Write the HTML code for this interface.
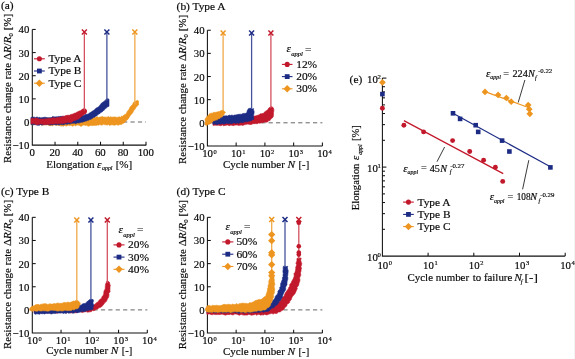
<!DOCTYPE html>
<html><head><meta charset="utf-8"><style>
html,body{margin:0;padding:0;background:#fff;width:575px;height:359px;overflow:hidden;}
svg{display:block;filter:blur(0.3px);}
text{font-family:"Liberation Serif",serif;fill:#0a0a0a;stroke:#0a0a0a;stroke-width:0.18px;}
</style></head><body>
<svg width="575" height="359" viewBox="0 0 575 359">
<rect width="575" height="359" fill="#fff"/>
<line x1="574.5" y1="0" x2="574.5" y2="359" stroke="#f3f3f3" stroke-width="1"/>
<text x="1.00" y="9.20" font-size="11.4" text-anchor="start" >(a)</text>
<path d="M32.30,29.44 L32.30,145.14 L146.20,145.14" fill="none" stroke="#111" stroke-width="1.05"/>
<line x1="32.30" y1="29.44" x2="35.70" y2="29.44" stroke="#111" stroke-width="1.05" />
<line x1="32.30" y1="52.58" x2="35.70" y2="52.58" stroke="#111" stroke-width="1.05" />
<line x1="32.30" y1="75.72" x2="35.70" y2="75.72" stroke="#111" stroke-width="1.05" />
<line x1="32.30" y1="98.86" x2="35.70" y2="98.86" stroke="#111" stroke-width="1.05" />
<line x1="32.30" y1="122.00" x2="35.70" y2="122.00" stroke="#111" stroke-width="1.05" />
<line x1="55.04" y1="145.14" x2="55.04" y2="141.74" stroke="#111" stroke-width="1.05" />
<line x1="77.78" y1="145.14" x2="77.78" y2="141.74" stroke="#111" stroke-width="1.05" />
<line x1="100.52" y1="145.14" x2="100.52" y2="141.74" stroke="#111" stroke-width="1.05" />
<line x1="123.26" y1="145.14" x2="123.26" y2="141.74" stroke="#111" stroke-width="1.05" />
<line x1="146.00" y1="145.14" x2="146.00" y2="141.74" stroke="#111" stroke-width="1.05" />
<text x="29.40" y="33.44" font-size="10.8" text-anchor="end" >40</text>
<text x="29.40" y="56.58" font-size="10.8" text-anchor="end" >30</text>
<text x="29.40" y="79.72" font-size="10.8" text-anchor="end" >20</text>
<text x="29.40" y="102.86" font-size="10.8" text-anchor="end" >10</text>
<text x="29.40" y="126.00" font-size="10.8" text-anchor="end" >0</text>
<text x="29.40" y="149.14" font-size="10.8" text-anchor="end" >−10</text>
<text x="32.10" y="156.40" font-size="10.8" text-anchor="middle" >0</text>
<text x="54.84" y="156.40" font-size="10.8" text-anchor="middle" >20</text>
<text x="77.58" y="156.40" font-size="10.8" text-anchor="middle" >40</text>
<text x="100.32" y="156.40" font-size="10.8" text-anchor="middle" >60</text>
<text x="123.06" y="156.40" font-size="10.8" text-anchor="middle" >80</text>
<text x="145.80" y="156.40" font-size="10.8" text-anchor="middle" >100</text>
<text x="46.20" y="167.70" font-size="11.4" textLength="48.4" lengthAdjust="spacingAndGlyphs" text-anchor="start">Elongation</text>
<text x="96.90" y="167.70" font-size="11.4" font-style="italic" text-anchor="start">ε</text>
<text x="102.00" y="170.30" font-size="5.9" font-style="italic" text-anchor="start">appl</text>
<text x="115.70" y="167.70" font-size="11.4" textLength="16.6" lengthAdjust="spacingAndGlyphs" text-anchor="start">[%]</text>
<text transform="translate(10.90,163.00) rotate(-90)" x="0" y="0" font-size="11.4" textLength="149.2" lengthAdjust="spacingAndGlyphs">Resistance change rate Δ<tspan font-style="italic">R</tspan>/<tspan font-style="italic">R</tspan><tspan font-size="7" dy="2">0</tspan><tspan dy="-2"> [%]</tspan></text>
<line x1="34.3" y1="122.00" x2="146" y2="122.00" stroke="#666" stroke-width="1" stroke-dasharray="4.2,3.2"/>
<path d="M31.00,118.50 L32.21,118.15 L33.42,118.26 L34.62,118.53 L35.83,117.75 L37.04,118.01 L38.25,118.85 L39.46,118.62 L40.66,118.34 L41.87,118.30 L43.08,118.13 L44.29,118.26 L45.49,118.33 L46.70,117.74 L47.91,118.37 L49.12,118.15 L50.33,118.10 L51.53,117.68 L52.74,117.69 L53.95,118.17 L55.16,117.24 L56.37,118.19 L57.57,117.74 L58.78,117.55 L59.99,117.32 L61.20,117.59 L62.40,117.69 L63.61,117.89 L64.82,117.66 L66.03,117.87 L67.24,117.91 L68.44,117.67 L69.65,117.80 L70.86,117.13 L72.07,117.80 L73.28,116.87 L74.48,117.25 L75.69,117.10 L76.90,117.78 L78.11,117.46 L79.31,117.57 L80.52,117.75 L81.73,117.29 L82.94,117.04 L84.15,117.38 L85.35,116.88 L86.56,117.37 L87.77,116.67 L88.98,116.99 L90.19,117.67 L91.39,117.12 L92.60,117.32 L93.81,117.19 L95.02,117.63 L96.22,116.99 L97.43,116.74 L98.64,117.60 L99.85,117.06 L101.06,116.88 L102.26,116.38 L103.47,117.09 L104.68,117.06 L105.89,117.14 L107.10,117.21 L108.30,116.43 L109.51,117.25 L110.72,116.78 L111.93,117.23 L113.13,116.99 L114.34,117.03 L115.55,116.93 L116.76,117.45 L117.97,117.16 L119.17,116.80 L120.38,117.24 L121.59,116.09 L122.80,116.31 L124.01,114.95 L125.21,114.56 L126.42,113.29 L127.63,110.86 L128.84,109.71 L130.04,107.11 L131.25,105.81 L132.46,104.48 L133.67,102.08 L134.88,101.76 L136.08,100.98 L137.29,100.36 L138.50,101.00 L138.50,105.00 L137.29,105.96 L136.08,107.23 L134.88,109.36 L133.67,110.73 L132.46,113.22 L131.25,114.25 L130.04,115.98 L128.84,117.89 L127.63,119.64 L126.42,120.58 L125.21,122.08 L124.01,122.96 L122.80,123.59 L121.59,124.39 L120.38,124.56 L119.17,124.70 L117.97,125.36 L116.76,124.55 L115.55,125.02 L114.34,125.30 L113.13,124.91 L111.93,124.87 L110.72,124.98 L109.51,125.54 L108.30,124.41 L107.10,125.17 L105.89,124.66 L104.68,124.78 L103.47,124.35 L102.26,125.08 L101.06,125.11 L99.85,124.49 L98.64,125.16 L97.43,124.96 L96.22,125.53 L95.02,125.34 L93.81,125.54 L92.60,125.58 L91.39,125.55 L90.19,125.44 L88.98,126.15 L87.77,126.04 L86.56,125.19 L85.35,125.49 L84.15,125.04 L82.94,125.09 L81.73,126.20 L80.52,126.18 L79.31,125.40 L78.11,125.05 L76.90,125.05 L75.69,125.92 L74.48,125.18 L73.28,125.96 L72.07,126.19 L70.86,125.08 L69.65,125.69 L68.44,125.25 L67.24,125.68 L66.03,126.16 L64.82,125.20 L63.61,126.19 L62.40,126.11 L61.20,126.09 L59.99,125.70 L58.78,125.41 L57.57,125.26 L56.37,125.37 L55.16,125.05 L53.95,124.86 L52.74,125.81 L51.53,125.60 L50.33,125.69 L49.12,125.59 L47.91,125.05 L46.70,124.47 L45.49,125.09 L44.29,124.42 L43.08,125.19 L41.87,125.30 L40.66,124.40 L39.46,124.75 L38.25,124.71 L37.04,124.38 L35.83,125.07 L34.62,124.10 L33.42,124.71 L32.21,124.59 L31.00,124.50Z" fill="#ed951f" stroke="#ed951f" stroke-width="0.6" stroke-linejoin="round"/>
<path d="M31.00,117.20 L32.20,117.52 L33.40,117.09 L34.60,117.19 L35.80,117.72 L37.00,116.82 L38.20,117.72 L39.40,117.30 L40.60,117.82 L41.80,117.66 L43.00,117.60 L44.20,117.25 L45.40,117.22 L46.60,117.55 L47.80,117.69 L49.00,117.70 L50.20,117.64 L51.40,117.54 L52.60,116.57 L53.80,116.65 L55.00,117.06 L56.20,116.73 L57.40,116.85 L58.60,116.41 L59.80,116.56 L61.00,116.35 L62.20,116.53 L63.40,116.17 L64.60,116.92 L65.80,116.82 L67.00,116.63 L68.20,116.05 L69.40,116.27 L70.60,116.42 L71.80,116.78 L73.00,116.03 L74.20,116.07 L75.40,116.89 L76.60,115.97 L77.80,116.17 L79.00,116.17 L80.20,116.26 L81.40,115.57 L82.60,115.21 L83.80,115.51 L85.00,114.58 L86.20,114.35 L87.40,114.23 L88.60,113.72 L89.80,112.82 L91.00,112.14 L92.20,111.27 L93.40,110.52 L94.60,109.80 L95.80,108.35 L97.00,107.63 L98.20,107.06 L99.40,105.94 L100.60,104.16 L101.80,102.82 L103.00,102.16 L104.20,101.15 L105.40,100.23 L106.60,98.80 L107.80,98.70 L109.00,99.20 L109.00,106.30 L107.80,106.66 L106.60,107.83 L105.40,108.83 L104.20,109.99 L103.00,111.19 L101.80,112.07 L100.60,112.68 L99.40,113.92 L98.20,114.37 L97.00,115.74 L95.80,116.15 L94.60,117.21 L93.40,117.41 L92.20,118.51 L91.00,119.16 L89.80,119.45 L88.60,120.18 L87.40,120.42 L86.20,121.12 L85.00,121.18 L83.80,121.67 L82.60,122.14 L81.40,122.21 L80.20,122.54 L79.00,123.04 L77.80,122.86 L76.60,123.20 L75.40,123.71 L74.20,123.08 L73.00,123.30 L71.80,123.31 L70.60,123.86 L69.40,123.99 L68.20,123.81 L67.00,124.48 L65.80,123.70 L64.60,124.58 L63.40,124.64 L62.20,124.74 L61.00,124.20 L59.80,124.81 L58.60,124.91 L57.40,124.41 L56.20,125.04 L55.00,124.64 L53.80,124.44 L52.60,124.91 L51.40,124.77 L50.20,125.11 L49.00,124.93 L47.80,124.31 L46.60,124.58 L45.40,124.37 L44.20,124.64 L43.00,124.82 L41.80,125.14 L40.60,124.52 L39.40,125.25 L38.20,125.29 L37.00,125.24 L35.80,124.46 L34.60,124.71 L33.40,124.72 L32.20,124.57 L31.00,124.80Z" fill="#1c2b84" stroke="#1c2b84" stroke-width="0.6" stroke-linejoin="round"/>
<path d="M31.00,118.30 L32.20,118.63 L33.40,118.00 L34.61,118.85 L35.81,118.05 L37.01,118.20 L38.21,118.81 L39.42,119.15 L40.62,119.05 L41.82,119.07 L43.02,119.08 L44.22,119.17 L45.43,118.53 L46.63,118.98 L47.83,118.49 L49.03,118.33 L50.23,118.66 L51.44,118.11 L52.64,117.92 L53.84,117.49 L55.04,118.21 L56.25,117.81 L57.45,117.59 L58.65,117.40 L59.85,117.04 L61.05,117.29 L62.26,116.23 L63.46,116.80 L64.66,116.07 L65.86,115.56 L67.07,115.32 L68.27,115.18 L69.47,115.30 L70.67,114.57 L71.87,114.28 L73.08,114.04 L74.28,113.26 L75.48,113.06 L76.68,112.20 L77.88,111.80 L79.09,111.06 L80.29,110.81 L81.49,110.11 L82.69,109.77 L83.90,108.73 L85.10,108.97 L86.30,110.00 L86.30,111.80 L85.10,113.36 L83.90,114.70 L82.69,115.50 L81.49,116.74 L80.29,117.47 L79.09,118.68 L77.88,119.23 L76.68,119.58 L75.48,120.38 L74.28,120.55 L73.08,121.18 L71.87,122.15 L70.67,122.39 L69.47,122.92 L68.27,122.34 L67.07,122.84 L65.86,122.67 L64.66,123.27 L63.46,123.22 L62.26,123.59 L61.05,123.14 L59.85,123.72 L58.65,123.67 L57.45,123.99 L56.25,123.48 L55.04,123.81 L53.84,123.98 L52.64,123.98 L51.44,124.03 L50.23,124.11 L49.03,124.41 L47.83,124.06 L46.63,124.79 L45.43,124.31 L44.22,124.88 L43.02,124.01 L41.82,124.37 L40.62,123.86 L39.42,124.36 L38.21,124.58 L37.01,124.54 L35.81,124.50 L34.61,123.80 L33.40,123.68 L32.20,123.58 L31.00,124.00Z" fill="#c2182b" stroke="#c2182b" stroke-width="0.6" stroke-linejoin="round"/>
<circle cx="84.0" cy="111.4" r="2.8" fill="#c2182b"/>
<line x1="84.37" y1="110.56" x2="84.37" y2="32.10" stroke="#d4505e" stroke-width="1.3" />
<path d="M81.87,29.60 L86.87,34.60 M86.87,29.60 L81.87,34.60" stroke="#c2182b" stroke-width="1.45" fill="none"/>
<line x1="106.89" y1="100.45" x2="106.89" y2="32.10" stroke="#46549c" stroke-width="1.3" />
<path d="M104.39,29.60 L109.39,34.60 M109.39,29.60 L104.39,34.60" stroke="#1c2b84" stroke-width="1.45" fill="none"/>
<line x1="134.86" y1="104.47" x2="134.86" y2="32.10" stroke="#f0a94a" stroke-width="1.3" />
<path d="M132.36,29.60 L137.36,34.60 M137.36,29.60 L132.36,34.60" stroke="#ed951f" stroke-width="1.45" fill="none"/>
<line x1="34.00" y1="58.80" x2="44.80" y2="58.80" stroke="#c2182b" stroke-width="1.1" />
<circle cx="39.40" cy="58.80" r="2.55" fill="#c2182b"/>
<text x="48.40" y="62.20" font-size="11.4" text-anchor="start" >Type A</text>
<line x1="34.00" y1="71.00" x2="44.80" y2="71.00" stroke="#1c2b84" stroke-width="1.1" />
<rect x="37.00" y="68.60" width="4.80" height="4.80" fill="#1c2b84"/>
<text x="48.40" y="74.40" font-size="11.4" text-anchor="start" >Type B</text>
<line x1="34.00" y1="83.20" x2="44.80" y2="83.20" stroke="#ed951f" stroke-width="1.1" />
<path d="M39.40,79.50 L43.10,83.20 L39.40,86.90 L35.70,83.20Z" fill="#ed951f"/>
<text x="48.40" y="86.60" font-size="11.4" text-anchor="start" >Type C</text>
<text x="176.60" y="9.60" font-size="11.4" text-anchor="start" >(b) Type A</text>
<path d="M207.40,30.24 L207.40,145.94 L322.40,145.94" fill="none" stroke="#111" stroke-width="1.05"/>
<line x1="207.40" y1="30.24" x2="210.80" y2="30.24" stroke="#111" stroke-width="1.05" />
<line x1="207.40" y1="53.38" x2="210.80" y2="53.38" stroke="#111" stroke-width="1.05" />
<line x1="207.40" y1="76.52" x2="210.80" y2="76.52" stroke="#111" stroke-width="1.05" />
<line x1="207.40" y1="99.66" x2="210.80" y2="99.66" stroke="#111" stroke-width="1.05" />
<line x1="207.40" y1="122.80" x2="210.80" y2="122.80" stroke="#111" stroke-width="1.05" />
<line x1="236.15" y1="145.94" x2="236.15" y2="142.54" stroke="#111" stroke-width="1.05" />
<line x1="264.90" y1="145.94" x2="264.90" y2="142.54" stroke="#111" stroke-width="1.05" />
<line x1="293.65" y1="145.94" x2="293.65" y2="142.54" stroke="#111" stroke-width="1.05" />
<line x1="322.40" y1="145.94" x2="322.40" y2="142.54" stroke="#111" stroke-width="1.05" />
<text x="204.60" y="34.24" font-size="10.8" text-anchor="end" >40</text>
<text x="204.60" y="57.38" font-size="10.8" text-anchor="end" >30</text>
<text x="204.60" y="80.52" font-size="10.8" text-anchor="end" >20</text>
<text x="204.60" y="103.66" font-size="10.8" text-anchor="end" >10</text>
<text x="204.60" y="126.80" font-size="10.8" text-anchor="end" >0</text>
<text x="204.60" y="149.94" font-size="10.8" text-anchor="end" >−10</text>
<text x="207.60" y="157.20" font-size="10.8" text-anchor="middle">10</text>
<text x="213.60" y="153.60" font-size="6.48">0</text>
<text x="236.35" y="157.20" font-size="10.8" text-anchor="middle">10</text>
<text x="242.35" y="153.60" font-size="6.48">1</text>
<text x="265.10" y="157.20" font-size="10.8" text-anchor="middle">10</text>
<text x="271.10" y="153.60" font-size="6.48">2</text>
<text x="293.85" y="157.20" font-size="10.8" text-anchor="middle">10</text>
<text x="299.85" y="153.60" font-size="6.48">3</text>
<text x="322.60" y="157.20" font-size="10.8" text-anchor="middle">10</text>
<text x="328.60" y="153.60" font-size="6.48">4</text>
<text x="223.00" y="168.00" font-size="11.4" textLength="61.9" lengthAdjust="spacingAndGlyphs" text-anchor="start">Cycle number</text>
<text x="287.60" y="168.00" font-size="11.4" font-style="italic" text-anchor="start">N</text>
<text x="298.60" y="168.00" font-size="11.4" textLength="10.6" lengthAdjust="spacingAndGlyphs" text-anchor="start">[-]</text>
<text transform="translate(186.30,164.00) rotate(-90)" x="0" y="0" font-size="11.4" textLength="149.2" lengthAdjust="spacingAndGlyphs">Resistance change rate Δ<tspan font-style="italic">R</tspan>/<tspan font-style="italic">R</tspan><tspan font-size="7" dy="2">0</tspan><tspan dy="-2"> [%]</tspan></text>
<line x1="209.4" y1="122.80" x2="322.40" y2="122.80" stroke="#666" stroke-width="1" stroke-dasharray="4.2,3.2"/>
<text x="286.60" y="52.40" font-size="11.4" font-style="italic">ε</text>
<text x="291.20" y="56.30" font-size="6.6" font-style="italic">appl</text>
<text x="305.10" y="52.50" font-size="11.4">=</text>
<line x1="281.90" y1="64.40" x2="292.50" y2="64.40" stroke="#c2182b" stroke-width="1.1" />
<circle cx="287.20" cy="64.40" r="2.55" fill="#c2182b"/>
<text x="296.20" y="67.80" font-size="11.4" text-anchor="start" >12%</text>
<line x1="281.90" y1="76.60" x2="292.50" y2="76.60" stroke="#1c2b84" stroke-width="1.1" />
<rect x="284.80" y="74.20" width="4.80" height="4.80" fill="#1c2b84"/>
<text x="296.20" y="80.00" font-size="11.4" text-anchor="start" >20%</text>
<line x1="281.90" y1="88.80" x2="292.50" y2="88.80" stroke="#ed951f" stroke-width="1.1" />
<path d="M287.20,85.10 L290.90,88.80 L287.20,92.50 L283.50,88.80Z" fill="#ed951f"/>
<text x="296.20" y="92.20" font-size="11.4" text-anchor="start" >30%</text>
<path d="M213.00,121.50 L214.32,121.68 L215.65,121.85 L216.92,121.23 L218.21,120.90 L219.52,120.82 L220.86,121.28 L222.17,121.15 L223.49,121.39 L224.79,121.20 L226.06,120.45 L227.36,120.31 L228.68,120.31 L230.00,120.50 L231.29,119.99 L232.69,120.39 L234.05,120.39 L235.39,120.27 L236.63,119.40 L238.05,119.90 L239.31,119.13 L240.66,119.08 L242.03,119.25 L243.28,118.38 L244.61,118.22 L246.05,118.86 L247.30,118.11 L248.65,118.01 L250.00,118.00 L251.36,117.62 L252.73,117.25 L253.82,116.09 L255.27,115.96 L256.64,115.60 L258.00,115.20 L259.19,114.65 L260.27,113.83 L261.64,113.67 L263.01,113.50 L264.00,112.50 L265.26,111.40 L266.70,110.54 L268.00,109.50 L268.68,108.08 L270.00,107.20 L272.00,106.60 L273.40,108.00 L273.85,109.47 L273.80,111.00 L273.47,112.73 L273.50,114.50 L273.30,116.39 L272.30,118.00 L270.83,119.02 L270.00,120.60 L268.50,120.72 L267.50,122.08 L266.00,122.20 L264.42,121.97 L263.02,122.84 L261.45,122.65 L260.00,123.20 L258.54,123.09 L257.17,123.77 L255.69,123.52 L254.27,123.72 L252.82,123.72 L251.46,124.48 L250.00,124.40 L248.55,124.24 L247.10,124.12 L245.70,124.55 L244.28,124.82 L242.89,125.40 L241.43,125.09 L240.00,125.20 L238.64,125.38 L237.27,125.00 L235.91,125.06 L234.54,125.20 L233.19,125.64 L231.82,125.15 L230.45,125.18 L229.10,125.70 L227.72,124.93 L226.36,125.21 L225.00,125.40 L223.67,125.81 L222.33,124.92 L221.00,125.79 L219.67,125.59 L218.33,125.16 L217.00,125.29 L215.67,125.34 L214.33,125.24 L213.00,125.40 L212.95,124.10 L212.79,122.80Z" fill="#c2182b" stroke="#c2182b" stroke-width="0.6" stroke-linejoin="round"/>
<path d="M212.60,120.60 L213.49,119.30 L214.55,118.18 L216.00,117.50 L217.33,117.51 L218.62,117.32 L219.87,116.86 L221.19,116.85 L222.40,116.20 L223.67,115.87 L225.00,115.90 L226.36,115.66 L227.78,116.08 L229.08,115.06 L230.50,115.46 L231.85,115.06 L233.27,115.52 L234.61,114.95 L236.00,115.00 L237.35,114.55 L238.75,114.36 L240.16,114.24 L241.59,114.23 L242.89,113.51 L244.30,113.40 L245.77,113.31 L247.00,112.50 L247.03,111.13 L247.63,109.95 L248.30,108.80 L249.63,108.31 L250.98,108.27 L252.36,108.96 L253.70,108.60 L253.48,109.93 L254.10,111.24 L254.12,112.57 L253.89,113.90 L253.56,115.23 L253.50,116.56 L253.60,117.88 L253.90,119.20 L252.56,119.71 L251.46,120.75 L250.00,121.00 L248.62,121.35 L247.26,121.81 L245.79,121.69 L244.39,121.89 L243.06,122.52 L241.65,122.71 L240.15,122.37 L238.89,123.43 L237.34,122.83 L236.00,123.40 L234.63,123.03 L233.27,123.02 L231.95,123.70 L230.59,123.58 L229.23,123.60 L227.88,123.61 L226.51,123.29 L225.17,123.67 L223.83,124.15 L222.45,123.59 L221.12,124.06 L219.76,123.99 L218.40,123.92 L217.08,124.77 L215.69,123.99 L214.35,124.16 L213.00,124.40 L212.79,122.50Z" fill="#1c2b84" stroke="#1c2b84" stroke-width="0.6" stroke-linejoin="round"/>
<path d="M205.00,119.20 L206.02,117.87 L207.00,116.50 L208.32,115.12 L209.70,113.80 L210.94,113.15 L212.36,113.18 L213.55,112.33 L215.00,112.50 L216.57,112.10 L218.17,111.86 L219.70,111.30 L221.33,110.59 L223.00,110.00 L224.25,111.30 L225.60,112.50 L224.37,113.48 L224.00,115.00 L222.72,115.52 L222.26,117.01 L220.79,117.30 L220.00,118.40 L218.55,118.77 L217.37,119.87 L215.85,120.05 L214.50,120.68 L213.00,120.90 L212.23,122.33 L210.77,123.07 L209.70,124.20 L207.89,124.58 L206.50,125.80 L205.00,124.50 L204.81,123.17 L205.41,121.85 L205.21,120.53Z" fill="#ed951f" stroke="#ed951f" stroke-width="0.6" stroke-linejoin="round"/>
<line x1="223.10" y1="111.00" x2="223.10" y2="33.10" stroke="#f0a94a" stroke-width="1.3" />
<path d="M220.60,30.60 L225.60,35.60 M225.60,30.60 L220.60,35.60" stroke="#ed951f" stroke-width="1.45" fill="none"/>
<line x1="251.60" y1="109.00" x2="251.60" y2="33.10" stroke="#46549c" stroke-width="1.3" />
<path d="M249.10,30.60 L254.10,35.60 M254.10,30.60 L249.10,35.60" stroke="#1c2b84" stroke-width="1.45" fill="none"/>
<line x1="270.90" y1="108.00" x2="270.90" y2="33.10" stroke="#d4505e" stroke-width="1.3" />
<path d="M268.40,30.60 L273.40,35.60 M273.40,30.60 L268.40,35.60" stroke="#c2182b" stroke-width="1.45" fill="none"/>
<text x="1.00" y="195.20" font-size="11.4" text-anchor="start" >(c) Type B</text>
<path d="M32.30,217.34 L32.30,333.04 L147.30,333.04" fill="none" stroke="#111" stroke-width="1.05"/>
<line x1="32.30" y1="217.34" x2="35.70" y2="217.34" stroke="#111" stroke-width="1.05" />
<line x1="32.30" y1="240.48" x2="35.70" y2="240.48" stroke="#111" stroke-width="1.05" />
<line x1="32.30" y1="263.62" x2="35.70" y2="263.62" stroke="#111" stroke-width="1.05" />
<line x1="32.30" y1="286.76" x2="35.70" y2="286.76" stroke="#111" stroke-width="1.05" />
<line x1="32.30" y1="309.90" x2="35.70" y2="309.90" stroke="#111" stroke-width="1.05" />
<line x1="61.05" y1="333.04" x2="61.05" y2="329.64" stroke="#111" stroke-width="1.05" />
<line x1="89.80" y1="333.04" x2="89.80" y2="329.64" stroke="#111" stroke-width="1.05" />
<line x1="118.55" y1="333.04" x2="118.55" y2="329.64" stroke="#111" stroke-width="1.05" />
<line x1="147.30" y1="333.04" x2="147.30" y2="329.64" stroke="#111" stroke-width="1.05" />
<text x="29.40" y="221.34" font-size="10.8" text-anchor="end" >40</text>
<text x="29.40" y="244.48" font-size="10.8" text-anchor="end" >30</text>
<text x="29.40" y="267.62" font-size="10.8" text-anchor="end" >20</text>
<text x="29.40" y="290.76" font-size="10.8" text-anchor="end" >10</text>
<text x="29.40" y="313.90" font-size="10.8" text-anchor="end" >0</text>
<text x="29.40" y="337.04" font-size="10.8" text-anchor="end" >−10</text>
<text x="32.50" y="344.40" font-size="10.8" text-anchor="middle">10</text>
<text x="38.50" y="340.80" font-size="6.48">0</text>
<text x="61.25" y="344.40" font-size="10.8" text-anchor="middle">10</text>
<text x="67.25" y="340.80" font-size="6.48">1</text>
<text x="90.00" y="344.40" font-size="10.8" text-anchor="middle">10</text>
<text x="96.00" y="340.80" font-size="6.48">2</text>
<text x="118.75" y="344.40" font-size="10.8" text-anchor="middle">10</text>
<text x="124.75" y="340.80" font-size="6.48">3</text>
<text x="147.50" y="344.40" font-size="10.8" text-anchor="middle">10</text>
<text x="153.50" y="340.80" font-size="6.48">4</text>
<text x="46.20" y="354.20" font-size="11.4" textLength="61.9" lengthAdjust="spacingAndGlyphs" text-anchor="start">Cycle number</text>
<text x="110.80" y="354.20" font-size="11.4" font-style="italic" text-anchor="start">N</text>
<text x="121.80" y="354.20" font-size="11.4" textLength="10.6" lengthAdjust="spacingAndGlyphs" text-anchor="start">[-]</text>
<text transform="translate(10.90,349.00) rotate(-90)" x="0" y="0" font-size="11.4" textLength="149.2" lengthAdjust="spacingAndGlyphs">Resistance change rate Δ<tspan font-style="italic">R</tspan>/<tspan font-style="italic">R</tspan><tspan font-size="7" dy="2">0</tspan><tspan dy="-2"> [%]</tspan></text>
<line x1="34.3" y1="309.90" x2="147.30" y2="309.90" stroke="#666" stroke-width="1" stroke-dasharray="4.2,3.2"/>
<text x="118.60" y="233.00" font-size="11.4" font-style="italic">ε</text>
<text x="123.20" y="236.90" font-size="6.6" font-style="italic">appl</text>
<text x="137.10" y="233.10" font-size="11.4">=</text>
<line x1="113.50" y1="244.90" x2="124.50" y2="244.90" stroke="#c2182b" stroke-width="1.1" />
<circle cx="119.00" cy="244.90" r="2.55" fill="#c2182b"/>
<text x="128.00" y="248.30" font-size="11.4" text-anchor="start" >20%</text>
<line x1="113.50" y1="257.10" x2="124.50" y2="257.10" stroke="#1c2b84" stroke-width="1.1" />
<rect x="116.60" y="254.70" width="4.80" height="4.80" fill="#1c2b84"/>
<text x="128.00" y="260.50" font-size="11.4" text-anchor="start" >30%</text>
<line x1="113.50" y1="269.30" x2="124.50" y2="269.30" stroke="#ed951f" stroke-width="1.1" />
<path d="M119.00,265.60 L122.70,269.30 L119.00,273.00 L115.30,269.30Z" fill="#ed951f"/>
<text x="128.00" y="272.70" font-size="11.4" text-anchor="start" >40%</text>
<path d="M34.00,310.50 L35.31,310.10 L36.62,310.89 L37.92,310.61 L39.23,310.97 L40.54,310.74 L41.85,310.76 L43.15,310.33 L44.46,310.84 L45.77,310.97 L47.08,310.90 L48.38,310.43 L49.69,310.78 L51.00,310.48 L52.31,310.07 L53.62,310.00 L54.92,310.04 L56.23,310.17 L57.54,310.13 L58.85,310.50 L60.15,310.72 L61.46,310.54 L62.77,310.41 L64.08,310.66 L65.38,310.29 L66.69,310.46 L68.00,310.78 L69.31,310.39 L70.62,310.15 L71.92,310.94 L73.23,310.74 L74.54,310.35 L75.85,310.36 L77.15,310.53 L78.46,310.61 L79.77,310.20 L81.08,309.95 L82.38,310.18 L83.69,310.81 L85.00,310.50 L86.16,309.48 L87.65,309.13 L89.00,308.50 L90.06,307.35 L91.32,306.49 L92.54,305.58 L94.00,305.00 L95.27,303.92 L96.45,302.71 L98.00,302.00 L98.80,300.47 L100.03,299.36 L101.50,298.50 L101.94,296.83 L103.02,295.50 L103.80,294.00 L103.80,292.20 L104.23,290.53 L105.20,289.00 L105.28,287.33 L105.37,285.66 L105.60,284.00 L106.26,282.83 L106.50,281.50 L107.80,281.00 L109.30,282.00 L109.80,284.00 L110.32,285.49 L109.96,287.00 L109.99,288.50 L109.90,290.00 L110.11,291.76 L108.80,293.24 L109.00,295.00 L108.79,296.36 L108.41,297.67 L107.53,298.76 L107.00,300.00 L106.30,301.55 L104.89,302.59 L104.00,304.00 L103.11,305.00 L102.27,306.06 L101.32,307.00 L100.00,307.50 L98.63,307.98 L97.62,309.12 L96.10,309.32 L95.00,310.30 L93.76,310.71 L92.36,310.59 L91.31,311.64 L90.00,311.80 L88.70,312.12 L87.40,312.14 L86.08,311.58 L84.78,311.83 L83.48,312.19 L82.19,312.51 L80.86,311.90 L79.55,311.63 L78.26,312.09 L76.97,312.78 L75.67,312.79 L74.36,312.77 L73.06,312.73 L71.76,312.92 L70.45,312.94 L69.12,312.33 L67.81,312.10 L66.53,312.91 L65.20,312.11 L63.91,312.69 L62.60,312.38 L61.29,312.30 L60.00,312.80 L58.70,312.32 L57.40,313.31 L56.10,313.01 L54.80,312.68 L53.50,312.31 L52.20,313.25 L50.90,313.03 L49.60,312.42 L48.30,313.22 L47.00,312.92 L45.70,312.98 L44.40,312.60 L43.10,312.33 L41.80,313.16 L40.50,312.54 L39.20,312.54 L37.90,312.43 L36.60,312.74 L35.30,312.33 L34.00,312.80Z" fill="#c2182b" stroke="#c2182b" stroke-width="0.6" stroke-linejoin="round"/>
<path d="M34.00,309.00 L35.29,308.77 L36.59,308.76 L37.88,308.48 L39.22,309.01 L40.50,308.60 L41.79,308.30 L43.08,308.11 L44.41,308.64 L45.71,308.44 L47.01,308.48 L48.29,308.05 L49.60,308.09 L50.88,307.64 L52.21,308.18 L53.47,307.35 L54.80,307.76 L56.12,308.01 L57.41,307.84 L58.67,307.13 L60.00,307.50 L61.30,307.07 L62.71,307.60 L64.02,307.24 L65.38,307.35 L66.71,307.21 L67.99,306.61 L69.38,306.95 L70.69,306.63 L71.98,306.06 L73.32,305.96 L74.62,305.49 L75.99,305.71 L77.39,306.18 L78.62,305.11 L80.00,305.40 L81.28,305.02 L82.35,304.10 L83.59,303.62 L85.00,303.60 L86.11,302.89 L86.82,301.71 L88.00,301.10 L89.24,299.77 L91.00,299.30 L93.10,299.50 L93.51,300.85 L93.00,302.22 L93.09,303.57 L93.75,304.92 L93.54,306.28 L92.76,307.65 L93.30,309.00 L91.73,309.75 L90.00,309.90 L88.73,310.23 L87.53,310.78 L86.16,310.81 L85.00,311.50 L83.63,311.51 L82.24,311.44 L80.91,311.84 L79.58,312.35 L78.21,312.49 L76.86,312.72 L75.42,312.03 L74.13,312.94 L72.78,313.17 L71.32,312.26 L70.00,312.90 L68.68,313.28 L67.32,312.56 L66.02,313.50 L64.67,313.12 L63.34,313.44 L61.99,312.82 L60.66,313.10 L59.33,313.12 L57.99,313.03 L56.65,312.96 L55.34,313.58 L54.00,313.35 L52.67,313.57 L51.35,313.98 L50.00,313.60 L48.69,313.25 L47.38,313.53 L46.07,313.30 L44.77,313.99 L43.46,313.64 L42.15,313.74 L40.84,313.47 L39.54,314.20 L38.23,313.92 L36.92,313.78 L35.61,314.25 L34.30,313.80 L34.26,312.20 L34.36,310.58Z" fill="#1c2b84" stroke="#1c2b84" stroke-width="0.6" stroke-linejoin="round"/>
<path d="M29.70,308.40 L30.79,307.29 L32.00,306.30 L33.30,306.03 L34.54,305.56 L35.65,304.73 L37.00,304.60 L38.29,304.36 L39.63,304.98 L40.89,304.18 L42.20,304.20 L43.47,303.74 L44.78,303.81 L46.08,303.67 L47.43,304.43 L48.72,304.13 L50.00,303.80 L51.40,304.09 L52.77,304.10 L54.10,303.57 L55.50,303.80 L56.82,303.25 L58.17,303.00 L59.59,303.46 L60.95,303.30 L62.32,303.23 L63.63,302.60 L65.00,302.50 L66.43,302.64 L67.79,302.08 L69.26,302.56 L70.65,302.32 L72.00,301.70 L73.26,301.02 L74.82,301.22 L76.00,300.30 L77.63,300.58 L79.00,301.50 L80.05,302.66 L80.30,304.20 L79.32,305.52 L78.97,307.17 L78.00,308.50 L76.66,308.81 L75.30,309.02 L74.12,309.99 L72.60,309.57 L71.39,310.41 L70.00,310.50 L68.70,310.59 L67.39,310.71 L66.08,310.29 L64.78,310.30 L63.48,310.82 L62.18,311.04 L60.87,310.84 L59.57,310.74 L58.27,311.12 L56.96,311.06 L55.65,310.40 L54.34,310.49 L53.04,310.20 L51.73,310.22 L50.43,310.35 L49.13,310.92 L47.83,311.17 L46.52,311.02 L45.22,310.87 L43.91,310.82 L42.61,310.82 L41.31,311.04 L40.00,310.90 L38.65,310.58 L37.35,311.27 L36.00,311.14 L34.65,310.74 L33.32,310.90 L32.00,311.30 L29.70,310.20Z" fill="#ed951f" stroke="#ed951f" stroke-width="0.6" stroke-linejoin="round"/>
<line x1="76.80" y1="301.00" x2="76.80" y2="220.00" stroke="#f0a94a" stroke-width="1.3" />
<path d="M74.30,217.50 L79.30,222.50 M79.30,217.50 L74.30,222.50" stroke="#ed951f" stroke-width="1.45" fill="none"/>
<line x1="90.90" y1="300.00" x2="90.90" y2="220.00" stroke="#46549c" stroke-width="1.3" />
<path d="M88.40,217.50 L93.40,222.50 M93.40,217.50 L88.40,222.50" stroke="#1c2b84" stroke-width="1.45" fill="none"/>
<line x1="107.30" y1="283.00" x2="107.30" y2="220.00" stroke="#d4505e" stroke-width="1.3" />
<path d="M104.80,217.50 L109.80,222.50 M109.80,217.50 L104.80,222.50" stroke="#c2182b" stroke-width="1.45" fill="none"/>
<text x="176.60" y="194.60" font-size="11.4" text-anchor="start" >(d) Type C</text>
<path d="M207.40,217.34 L207.40,333.04 L322.40,333.04" fill="none" stroke="#111" stroke-width="1.05"/>
<line x1="207.40" y1="217.34" x2="210.80" y2="217.34" stroke="#111" stroke-width="1.05" />
<line x1="207.40" y1="240.48" x2="210.80" y2="240.48" stroke="#111" stroke-width="1.05" />
<line x1="207.40" y1="263.62" x2="210.80" y2="263.62" stroke="#111" stroke-width="1.05" />
<line x1="207.40" y1="286.76" x2="210.80" y2="286.76" stroke="#111" stroke-width="1.05" />
<line x1="207.40" y1="309.90" x2="210.80" y2="309.90" stroke="#111" stroke-width="1.05" />
<line x1="236.15" y1="333.04" x2="236.15" y2="329.64" stroke="#111" stroke-width="1.05" />
<line x1="264.90" y1="333.04" x2="264.90" y2="329.64" stroke="#111" stroke-width="1.05" />
<line x1="293.65" y1="333.04" x2="293.65" y2="329.64" stroke="#111" stroke-width="1.05" />
<line x1="322.40" y1="333.04" x2="322.40" y2="329.64" stroke="#111" stroke-width="1.05" />
<text x="204.60" y="221.34" font-size="10.8" text-anchor="end" >40</text>
<text x="204.60" y="244.48" font-size="10.8" text-anchor="end" >30</text>
<text x="204.60" y="267.62" font-size="10.8" text-anchor="end" >20</text>
<text x="204.60" y="290.76" font-size="10.8" text-anchor="end" >10</text>
<text x="204.60" y="313.90" font-size="10.8" text-anchor="end" >0</text>
<text x="204.60" y="337.04" font-size="10.8" text-anchor="end" >−10</text>
<text x="207.60" y="344.40" font-size="10.8" text-anchor="middle">10</text>
<text x="213.60" y="340.80" font-size="6.48">0</text>
<text x="236.35" y="344.40" font-size="10.8" text-anchor="middle">10</text>
<text x="242.35" y="340.80" font-size="6.48">1</text>
<text x="265.10" y="344.40" font-size="10.8" text-anchor="middle">10</text>
<text x="271.10" y="340.80" font-size="6.48">2</text>
<text x="293.85" y="344.40" font-size="10.8" text-anchor="middle">10</text>
<text x="299.85" y="340.80" font-size="6.48">3</text>
<text x="322.60" y="344.40" font-size="10.8" text-anchor="middle">10</text>
<text x="328.60" y="340.80" font-size="6.48">4</text>
<text x="223.00" y="354.50" font-size="11.4" textLength="61.9" lengthAdjust="spacingAndGlyphs" text-anchor="start">Cycle number</text>
<text x="287.60" y="354.50" font-size="11.4" font-style="italic" text-anchor="start">N</text>
<text x="298.60" y="354.50" font-size="11.4" textLength="10.6" lengthAdjust="spacingAndGlyphs" text-anchor="start">[-]</text>
<text transform="translate(186.30,349.20) rotate(-90)" x="0" y="0" font-size="11.4" textLength="149.2" lengthAdjust="spacingAndGlyphs">Resistance change rate Δ<tspan font-style="italic">R</tspan>/<tspan font-style="italic">R</tspan><tspan font-size="7" dy="2">0</tspan><tspan dy="-2"> [%]</tspan></text>
<line x1="209.4" y1="309.90" x2="322.40" y2="309.90" stroke="#666" stroke-width="1" stroke-dasharray="4.2,3.2"/>
<text x="225.60" y="229.90" font-size="11.4" font-style="italic">ε</text>
<text x="230.20" y="233.80" font-size="6.6" font-style="italic">appl</text>
<text x="244.10" y="230.00" font-size="11.4">=</text>
<line x1="222.20" y1="241.90" x2="233.40" y2="241.90" stroke="#c2182b" stroke-width="1.1" />
<circle cx="227.80" cy="241.90" r="2.55" fill="#c2182b"/>
<text x="236.40" y="245.30" font-size="11.4" text-anchor="start" >50%</text>
<line x1="222.20" y1="254.20" x2="233.40" y2="254.20" stroke="#1c2b84" stroke-width="1.1" />
<rect x="225.40" y="251.80" width="4.80" height="4.80" fill="#1c2b84"/>
<text x="236.40" y="257.60" font-size="11.4" text-anchor="start" >60%</text>
<line x1="222.20" y1="266.50" x2="233.40" y2="266.50" stroke="#ed951f" stroke-width="1.1" />
<path d="M227.80,262.80 L231.50,266.50 L227.80,270.20 L224.10,266.50Z" fill="#ed951f"/>
<text x="236.40" y="269.90" font-size="11.4" text-anchor="start" >70%</text>
<path d="M207.00,311.00 L208.31,310.78 L209.62,310.72 L210.93,311.34 L212.24,310.46 L213.55,310.59 L214.86,311.03 L216.17,311.04 L217.48,310.63 L218.79,310.51 L220.10,310.67 L221.40,311.30 L222.71,310.96 L224.02,311.53 L225.33,311.31 L226.64,311.53 L227.95,310.49 L229.26,310.65 L230.57,310.46 L231.88,310.93 L233.19,310.82 L234.50,310.51 L235.81,311.05 L237.12,310.55 L238.43,310.79 L239.74,310.72 L241.05,311.33 L242.36,310.91 L243.67,310.74 L244.98,310.50 L246.29,310.92 L247.60,311.14 L248.90,311.19 L250.21,311.45 L251.52,311.34 L252.83,310.72 L254.14,310.60 L255.45,311.28 L256.76,311.32 L258.07,311.01 L259.38,311.36 L260.69,311.06 L262.00,311.00 L263.46,310.51 L264.94,310.14 L266.41,309.73 L268.00,310.00 L269.25,309.38 L270.57,308.87 L271.74,308.13 L272.65,306.97 L273.93,306.40 L275.00,305.50 L276.32,304.93 L277.23,303.92 L278.08,302.83 L278.94,301.76 L280.01,300.93 L281.00,300.00 L281.41,298.69 L282.13,297.59 L283.30,296.78 L284.30,295.85 L284.60,294.47 L285.18,293.28 L285.84,292.13 L286.65,291.08 L287.40,290.00 L288.33,288.90 L288.63,287.48 L289.76,286.48 L289.61,284.83 L290.41,283.66 L291.25,282.51 L291.78,281.21 L292.50,280.00 L293.26,278.86 L293.62,277.61 L294.12,276.39 L294.17,275.04 L293.94,273.60 L294.90,272.52 L295.26,271.27 L295.60,270.00 L295.74,268.67 L295.66,267.31 L296.28,266.03 L296.65,264.72 L295.92,263.28 L296.50,262.00 L296.95,260.70 L296.89,259.31 L297.30,258.00 L299.25,258.02 L301.20,258.00 L300.83,259.42 L300.81,260.82 L301.22,262.21 L301.78,263.59 L301.50,265.00 L300.87,266.62 L301.52,268.37 L301.00,270.00 L300.98,271.44 L300.36,272.82 L300.77,274.31 L300.68,275.74 L299.79,277.09 L299.66,278.52 L300.00,280.00 L299.75,281.32 L299.24,282.54 L298.91,283.83 L298.63,285.13 L298.07,286.34 L296.88,287.33 L297.37,288.90 L296.50,290.00 L296.07,291.39 L295.41,292.66 L294.84,293.97 L293.72,294.99 L292.83,296.12 L292.05,297.32 L291.56,298.68 L291.00,300.00 L289.84,300.89 L289.65,302.56 L288.52,303.48 L287.05,304.13 L286.93,305.85 L285.87,306.83 L284.79,307.79 L284.09,309.05 L283.00,310.00 L281.81,310.54 L280.89,311.61 L279.63,312.01 L278.11,311.88 L277.34,313.27 L276.00,313.50 L274.56,313.19 L273.23,314.11 L271.75,313.35 L270.38,313.83 L268.99,313.99 L267.64,314.67 L266.25,314.90 L264.77,314.26 L263.43,315.02 L262.00,314.80 L260.69,315.13 L259.38,314.43 L258.07,314.37 L256.76,315.27 L255.46,314.26 L254.14,314.72 L252.83,314.88 L251.52,315.18 L250.21,314.86 L248.91,314.19 L247.59,314.96 L246.28,315.12 L244.97,315.10 L243.66,315.11 L242.36,314.86 L241.05,314.23 L239.74,315.14 L238.43,315.01 L237.12,314.18 L235.81,314.11 L234.50,314.12 L233.19,314.92 L231.88,314.80 L230.57,314.13 L229.26,314.64 L227.95,314.39 L226.64,314.81 L225.33,315.13 L224.02,314.76 L222.72,314.31 L221.41,314.27 L220.10,314.50 L218.79,314.60 L217.48,314.52 L216.17,314.61 L214.86,314.50 L213.55,314.17 L212.24,314.86 L210.93,314.42 L209.62,314.04 L208.31,314.12 L207.00,314.50 L206.65,312.75Z" fill="#c2182b" stroke="#c2182b" stroke-width="0.6" stroke-linejoin="round"/>
<path d="M207.00,309.00 L208.30,309.52 L209.60,309.40 L210.91,308.68 L212.22,308.80 L213.52,308.75 L214.82,308.60 L216.12,309.63 L217.43,309.02 L218.72,309.55 L220.04,308.73 L221.34,308.63 L222.63,309.59 L223.94,309.52 L225.24,309.75 L226.54,309.43 L227.85,309.27 L229.15,309.55 L230.46,308.82 L231.76,309.33 L233.06,309.24 L234.37,308.93 L235.67,309.44 L236.97,309.15 L238.27,309.37 L239.58,309.24 L240.88,309.19 L242.18,309.25 L243.48,309.54 L244.78,309.97 L246.09,309.93 L247.39,309.87 L248.69,309.85 L250.00,309.50 L251.30,309.00 L252.80,309.47 L253.99,308.43 L255.30,308.00 L256.73,308.14 L258.12,308.11 L259.38,307.42 L260.80,307.47 L262.06,306.81 L263.56,307.28 L264.80,306.50 L266.08,305.83 L267.39,305.23 L268.71,304.66 L270.00,304.00 L271.15,303.26 L272.08,302.34 L272.52,301.02 L273.28,299.96 L274.27,299.08 L275.00,298.00 L275.24,296.45 L276.26,295.30 L277.34,294.17 L277.94,292.80 L277.90,291.12 L279.00,290.00 L279.79,288.78 L279.71,287.30 L280.76,286.16 L280.53,284.62 L280.78,283.24 L281.50,282.00 L281.85,280.61 L282.51,279.29 L282.33,277.78 L283.10,276.48 L283.00,275.00 L283.28,273.56 L282.95,272.09 L282.93,270.64 L283.21,269.20 L283.14,267.75 L283.30,266.30 L284.80,266.16 L286.30,266.47 L287.80,266.30 L287.39,267.75 L287.71,269.20 L288.19,270.65 L288.11,272.10 L287.94,273.55 L287.80,275.00 L287.51,276.39 L287.87,277.85 L287.78,279.25 L287.36,280.62 L287.00,282.00 L286.98,283.38 L287.01,284.76 L286.21,285.99 L285.54,287.25 L285.71,288.66 L285.50,290.00 L284.68,291.23 L284.00,292.52 L283.41,293.85 L282.75,295.15 L282.64,296.69 L282.00,298.00 L281.00,299.05 L280.67,300.58 L279.16,301.26 L278.78,302.74 L277.86,303.85 L277.00,305.00 L275.58,305.48 L274.80,306.86 L273.70,307.78 L272.13,308.04 L271.10,309.08 L270.00,310.00 L268.83,310.93 L267.52,311.49 L266.00,311.50 L264.68,311.77 L263.38,312.26 L261.97,311.46 L260.69,312.28 L259.35,312.29 L258.01,312.27 L256.67,312.25 L255.34,312.44 L253.99,312.33 L252.65,312.41 L251.34,312.76 L250.00,312.80 L248.69,313.23 L247.40,312.25 L246.09,312.56 L244.78,313.22 L243.48,312.82 L242.18,312.47 L240.88,312.20 L239.57,313.20 L238.27,313.26 L236.97,312.73 L235.67,312.79 L234.37,312.26 L233.06,312.32 L231.76,312.86 L230.45,312.75 L229.15,312.56 L227.85,312.22 L226.54,312.96 L225.24,312.75 L223.94,313.07 L222.64,312.45 L221.33,313.12 L220.03,312.11 L218.73,312.56 L217.42,312.49 L216.12,313.02 L214.82,312.85 L213.51,312.58 L212.21,312.14 L210.91,312.48 L209.60,312.76 L208.31,311.98 L207.00,312.50 L207.18,310.75Z" fill="#1c2b84" stroke="#1c2b84" stroke-width="0.6" stroke-linejoin="round"/>
<path d="M205.50,308.50 L206.28,307.27 L207.00,306.00 L208.33,305.59 L209.69,305.60 L211.09,306.17 L212.39,305.24 L213.77,305.59 L215.13,305.60 L216.46,305.22 L217.84,305.59 L219.21,305.66 L220.56,305.51 L221.90,305.29 L223.21,304.62 L224.56,304.37 L225.94,304.69 L227.28,304.47 L228.63,304.25 L230.00,304.50 L231.34,304.81 L232.60,304.00 L233.96,304.57 L235.28,304.61 L236.53,303.61 L237.91,304.39 L239.18,303.73 L240.48,303.43 L241.79,303.31 L243.09,303.06 L244.44,303.47 L245.74,303.25 L247.09,303.67 L248.40,303.55 L249.65,302.61 L251.00,303.00 L252.25,302.30 L253.55,301.69 L254.75,300.88 L256.09,300.35 L257.50,300.00 L258.94,299.41 L260.55,299.54 L262.00,299.00 L263.23,297.86 L264.41,296.66 L266.00,296.00 L266.08,294.43 L266.69,292.98 L267.19,291.52 L267.50,290.00 L267.48,288.52 L268.23,287.18 L267.96,285.66 L268.71,284.32 L268.90,282.88 L268.69,281.37 L269.30,280.00 L269.92,278.56 L270.00,277.00 L271.33,276.88 L272.67,277.04 L274.00,277.00 L274.04,278.51 L274.30,280.00 L274.22,281.43 L274.48,282.85 L274.96,284.27 L274.21,285.73 L274.19,287.16 L274.65,288.57 L274.70,290.00 L274.36,291.41 L274.44,292.90 L273.50,294.21 L273.47,295.68 L273.72,297.20 L272.81,298.51 L272.90,300.00 L271.84,300.97 L271.89,302.47 L270.67,303.36 L270.60,304.81 L270.00,306.00 L268.97,307.28 L267.35,307.81 L266.36,309.14 L265.00,310.00 L263.60,309.95 L262.26,310.31 L260.97,311.03 L259.54,310.77 L258.13,310.62 L256.82,311.22 L255.45,311.36 L254.03,311.20 L252.74,311.86 L251.36,312.01 L250.00,312.20 L248.70,312.10 L247.40,311.83 L246.09,312.51 L244.79,312.62 L243.49,311.88 L242.18,312.11 L240.88,312.37 L239.58,311.72 L238.27,311.72 L236.97,312.09 L235.67,311.60 L234.37,311.76 L233.06,311.85 L231.76,312.34 L230.45,312.65 L229.15,311.91 L227.85,311.84 L226.54,312.26 L225.24,312.11 L223.94,312.00 L222.64,312.35 L221.33,311.85 L220.03,311.99 L218.73,312.18 L217.42,312.48 L216.12,311.98 L214.82,312.23 L213.52,311.78 L212.21,312.38 L210.91,312.13 L209.60,312.35 L208.30,312.11 L207.00,312.00 L205.50,310.50Z" fill="#ed951f" stroke="#ed951f" stroke-width="0.6" stroke-linejoin="round"/>
<line x1="271.70" y1="278.00" x2="271.70" y2="219.50" stroke="#f0a94a" stroke-width="1.3" />
<path d="M269.20,217.00 L274.20,222.00 M274.20,217.00 L269.20,222.00" stroke="#ed951f" stroke-width="1.45" fill="none"/>
<line x1="285.00" y1="267.00" x2="285.00" y2="219.50" stroke="#46549c" stroke-width="1.3" />
<path d="M282.50,217.00 L287.50,222.00 M287.50,217.00 L282.50,222.00" stroke="#1c2b84" stroke-width="1.45" fill="none"/>
<line x1="298.80" y1="259.00" x2="298.80" y2="219.50" stroke="#d4505e" stroke-width="1.3" />
<path d="M296.30,217.00 L301.30,222.00 M301.30,217.00 L296.30,222.00" stroke="#c2182b" stroke-width="1.45" fill="none"/>
<path d="M271.70,230.97 L275.32,234.60 L271.70,238.22 L268.07,234.60Z" fill="#ed951f"/>
<path d="M271.70,237.07 L275.32,240.70 L271.70,244.32 L268.07,240.70Z" fill="#ed951f"/>
<path d="M271.70,249.07 L275.32,252.70 L271.70,256.32 L268.07,252.70Z" fill="#ed951f"/>
<path d="M271.70,251.28 L275.32,254.90 L271.70,258.52 L268.07,254.90Z" fill="#ed951f"/>
<path d="M271.70,260.98 L275.32,264.60 L271.70,268.23 L268.07,264.60Z" fill="#ed951f"/>
<path d="M271.70,268.98 L275.32,272.60 L271.70,276.23 L268.07,272.60Z" fill="#ed951f"/>
<path d="M271.70,272.07 L275.32,275.70 L271.70,279.32 L268.07,275.70Z" fill="#ed951f"/>
<circle cx="298.80" cy="222.80" r="2.30" fill="#c2182b"/>
<circle cx="298.80" cy="246.20" r="2.30" fill="#c2182b"/>
<circle cx="298.80" cy="252.60" r="2.30" fill="#c2182b"/>
<circle cx="298.80" cy="254.60" r="2.30" fill="#c2182b"/>
<text x="349.60" y="82.60" font-size="11.4" text-anchor="start" >(e)</text>
<path d="M382.4,78.10 L382.4,256.1 L565.20,256.1" fill="none" stroke="#111" stroke-width="1.05"/>
<line x1="382.40" y1="229.31" x2="385.00" y2="229.31" stroke="#111" stroke-width="1.05" />
<line x1="382.40" y1="213.64" x2="385.00" y2="213.64" stroke="#111" stroke-width="1.05" />
<line x1="382.40" y1="202.52" x2="385.00" y2="202.52" stroke="#111" stroke-width="1.05" />
<line x1="382.40" y1="193.89" x2="385.00" y2="193.89" stroke="#111" stroke-width="1.05" />
<line x1="382.40" y1="186.84" x2="385.00" y2="186.84" stroke="#111" stroke-width="1.05" />
<line x1="382.40" y1="180.89" x2="385.00" y2="180.89" stroke="#111" stroke-width="1.05" />
<line x1="382.40" y1="175.72" x2="385.00" y2="175.72" stroke="#111" stroke-width="1.05" />
<line x1="382.40" y1="171.17" x2="385.00" y2="171.17" stroke="#111" stroke-width="1.05" />
<line x1="382.40" y1="140.31" x2="385.00" y2="140.31" stroke="#111" stroke-width="1.05" />
<line x1="382.40" y1="124.64" x2="385.00" y2="124.64" stroke="#111" stroke-width="1.05" />
<line x1="382.40" y1="113.52" x2="385.00" y2="113.52" stroke="#111" stroke-width="1.05" />
<line x1="382.40" y1="104.89" x2="385.00" y2="104.89" stroke="#111" stroke-width="1.05" />
<line x1="382.40" y1="97.84" x2="385.00" y2="97.84" stroke="#111" stroke-width="1.05" />
<line x1="382.40" y1="91.89" x2="385.00" y2="91.89" stroke="#111" stroke-width="1.05" />
<line x1="382.40" y1="86.72" x2="385.00" y2="86.72" stroke="#111" stroke-width="1.05" />
<line x1="382.40" y1="82.17" x2="385.00" y2="82.17" stroke="#111" stroke-width="1.05" />
<line x1="382.40" y1="167.10" x2="386.40" y2="167.10" stroke="#111" stroke-width="1.05" />
<line x1="382.40" y1="78.10" x2="386.40" y2="78.10" stroke="#111" stroke-width="1.05" />
<line x1="428.10" y1="256.10" x2="428.10" y2="252.70" stroke="#111" stroke-width="1.05" />
<line x1="473.80" y1="256.10" x2="473.80" y2="252.70" stroke="#111" stroke-width="1.05" />
<line x1="519.50" y1="256.10" x2="519.50" y2="252.70" stroke="#111" stroke-width="1.05" />
<line x1="565.20" y1="256.10" x2="565.20" y2="252.70" stroke="#111" stroke-width="1.05" />
<text x="372.40" y="260.90" font-size="10.8" text-anchor="middle">10</text>
<text x="377.50" y="257.20" font-size="6.70">0</text>
<text x="372.40" y="171.90" font-size="10.8" text-anchor="middle">10</text>
<text x="377.50" y="168.20" font-size="6.70">1</text>
<text x="372.40" y="82.90" font-size="10.8" text-anchor="middle">10</text>
<text x="377.50" y="79.20" font-size="6.70">2</text>
<text x="382.80" y="268.60" font-size="10.8" text-anchor="middle">10</text>
<text x="388.80" y="265.00" font-size="6.48">0</text>
<text x="428.50" y="268.60" font-size="10.8" text-anchor="middle">10</text>
<text x="434.50" y="265.00" font-size="6.48">1</text>
<text x="474.20" y="268.60" font-size="10.8" text-anchor="middle">10</text>
<text x="480.20" y="265.00" font-size="6.48">2</text>
<text x="519.90" y="268.60" font-size="10.8" text-anchor="middle">10</text>
<text x="525.90" y="265.00" font-size="6.48">3</text>
<text x="565.60" y="268.60" font-size="10.8" text-anchor="middle">10</text>
<text x="571.60" y="265.00" font-size="6.48">4</text>
<text x="407.50" y="281.40" font-size="11.4" textLength="61.6" lengthAdjust="spacingAndGlyphs" text-anchor="start">Cycle number</text>
<text x="472.70" y="281.40" font-size="11.4" textLength="39.6" lengthAdjust="spacingAndGlyphs" text-anchor="start">to failure</text>
<text x="514.30" y="281.40" font-size="11.4" font-style="italic" text-anchor="start">N</text>
<text x="520.70" y="283.60" font-size="6.2" font-style="italic" text-anchor="start">f</text>
<text x="524.60" y="281.40" font-size="11.4" textLength="13.2" lengthAdjust="spacingAndGlyphs" text-anchor="start">[-]</text>
<g transform="translate(358.9,210.0) rotate(-90)">
<text x="-0.20" y="0.00" font-size="11.4" textLength="46.6" lengthAdjust="spacingAndGlyphs" text-anchor="start">Elongation</text>
<text x="49.80" y="0.00" font-size="11.4" font-style="italic" text-anchor="start">ε</text>
<text x="55.20" y="2.60" font-size="5.9" font-style="italic" text-anchor="start">appl</text>
<text x="69.00" y="0.00" font-size="11.4" textLength="15.9" lengthAdjust="spacingAndGlyphs" text-anchor="start">[%]</text>
</g>
<line x1="403.90" y1="120.60" x2="503.20" y2="173.60" stroke="#c2182b" stroke-width="1.2" />
<line x1="452.50" y1="113.00" x2="550.40" y2="166.80" stroke="#1c2b84" stroke-width="1.2" />
<line x1="485.00" y1="91.60" x2="529.00" y2="107.80" stroke="#ed951f" stroke-width="1.2" />
<circle cx="382.40" cy="108.30" r="2.45" fill="#c2182b"/>
<circle cx="403.90" cy="125.20" r="2.45" fill="#c2182b"/>
<circle cx="423.60" cy="131.90" r="2.45" fill="#c2182b"/>
<circle cx="452.60" cy="140.60" r="2.45" fill="#c2182b"/>
<circle cx="469.70" cy="151.50" r="2.45" fill="#c2182b"/>
<circle cx="483.60" cy="160.20" r="2.45" fill="#c2182b"/>
<circle cx="495.40" cy="167.30" r="2.45" fill="#c2182b"/>
<circle cx="502.70" cy="181.40" r="2.45" fill="#c2182b"/>
<rect x="380.10" y="91.80" width="4.60" height="4.60" fill="#1c2b84"/>
<rect x="450.70" y="111.00" width="4.60" height="4.60" fill="#1c2b84"/>
<rect x="457.80" y="116.60" width="4.60" height="4.60" fill="#1c2b84"/>
<rect x="473.40" y="122.90" width="4.60" height="4.60" fill="#1c2b84"/>
<rect x="475.90" y="129.60" width="4.60" height="4.60" fill="#1c2b84"/>
<rect x="499.80" y="138.30" width="4.60" height="4.60" fill="#1c2b84"/>
<rect x="507.10" y="149.20" width="4.60" height="4.60" fill="#1c2b84"/>
<rect x="548.10" y="165.10" width="4.60" height="4.60" fill="#1c2b84"/>
<path d="M382.40,79.07 L385.73,82.40 L382.40,85.73 L379.06,82.40Z" fill="#ed951f"/>
<path d="M485.00,88.57 L488.33,91.90 L485.00,95.23 L481.67,91.90Z" fill="#ed951f"/>
<path d="M498.10,91.57 L501.44,94.90 L498.10,98.23 L494.77,94.90Z" fill="#ed951f"/>
<path d="M506.40,94.67 L509.73,98.00 L506.40,101.33 L503.06,98.00Z" fill="#ed951f"/>
<path d="M511.20,98.37 L514.53,101.70 L511.20,105.03 L507.87,101.70Z" fill="#ed951f"/>
<path d="M528.20,101.67 L531.54,105.00 L528.20,108.33 L524.87,105.00Z" fill="#ed951f"/>
<path d="M529.20,105.87 L532.54,109.20 L529.20,112.53 L525.87,109.20Z" fill="#ed951f"/>
<path d="M529.80,110.47 L533.13,113.80 L529.80,117.13 L526.46,113.80Z" fill="#ed951f"/>
<line x1="437.00" y1="161.70" x2="444.60" y2="147.00" stroke="#222" stroke-width="0.9" />
<line x1="522.60" y1="189.30" x2="528.80" y2="160.20" stroke="#222" stroke-width="0.9" />
<line x1="518.20" y1="102.50" x2="524.90" y2="80.00" stroke="#222" stroke-width="0.9" />
<text x="403.30" y="171.60" font-size="11.0" font-style="italic" text-anchor="start">ε</text>
<text x="407.60" y="174.00" font-size="5.9" font-style="italic" text-anchor="start">appl</text>
<text x="420.90" y="171.40" font-size="10.2" text-anchor="start">=</text>
<text x="429.70" y="171.60" font-size="10.2" text-anchor="start">45</text>
<text x="440.30" y="171.60" font-size="10.2" font-style="italic" text-anchor="start">N</text>
<text x="449.70" y="174.20" font-size="5.9" font-style="italic" text-anchor="start">f</text>
<text x="450.20" y="168.00" font-size="6.8" text-anchor="start">-0.27</text>
<text x="489.70" y="200.20" font-size="11.0" font-style="italic" text-anchor="start">ε</text>
<text x="494.00" y="202.60" font-size="5.9" font-style="italic" text-anchor="start">appl</text>
<text x="507.60" y="200.00" font-size="10.2" text-anchor="start">=</text>
<text x="516.70" y="200.20" font-size="10.2" textLength="13.9" lengthAdjust="spacingAndGlyphs" text-anchor="start">108</text>
<text x="530.30" y="200.20" font-size="10.2" font-style="italic" text-anchor="start">N</text>
<text x="538.40" y="202.80" font-size="5.9" font-style="italic" text-anchor="start">f</text>
<text x="540.20" y="196.60" font-size="6.8" text-anchor="start">-0.29</text>
<text x="486.00" y="76.90" font-size="11.0" font-style="italic" text-anchor="start">ε</text>
<text x="490.30" y="79.30" font-size="5.9" font-style="italic" text-anchor="start">appl</text>
<text x="503.30" y="76.70" font-size="10.2" text-anchor="start">=</text>
<text x="512.50" y="76.90" font-size="10.2" text-anchor="start">224</text>
<text x="528.10" y="76.90" font-size="10.2" font-style="italic" text-anchor="start">N</text>
<text x="534.90" y="79.50" font-size="5.9" font-style="italic" text-anchor="start">f</text>
<text x="538.10" y="73.30" font-size="6.8" text-anchor="start">-0.22</text>
<line x1="403.10" y1="202.10" x2="413.80" y2="202.10" stroke="#c2182b" stroke-width="1.1" />
<circle cx="408.45" cy="202.10" r="2.55" fill="#c2182b"/>
<text x="417.50" y="205.50" font-size="11.4" text-anchor="start" >Type A</text>
<line x1="403.10" y1="214.40" x2="413.80" y2="214.40" stroke="#1c2b84" stroke-width="1.1" />
<rect x="406.05" y="212.00" width="4.80" height="4.80" fill="#1c2b84"/>
<text x="417.50" y="217.80" font-size="11.4" text-anchor="start" >Type B</text>
<line x1="403.10" y1="226.60" x2="413.80" y2="226.60" stroke="#ed951f" stroke-width="1.1" />
<path d="M408.45,222.90 L412.15,226.60 L408.45,230.30 L404.75,226.60Z" fill="#ed951f"/>
<text x="417.50" y="230.00" font-size="11.4" text-anchor="start" >Type C</text>
</svg></body></html>
